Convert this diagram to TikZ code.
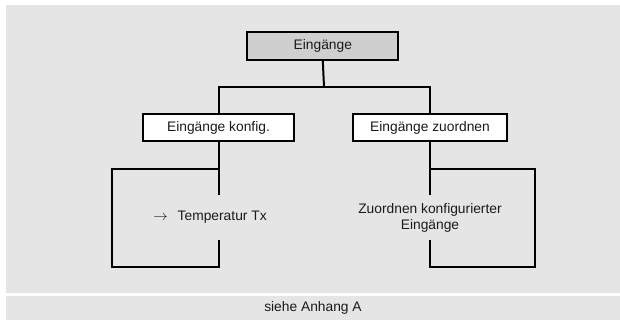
\documentclass[tikz,border=0pt]{standalone}
\usepackage{fontspec}
\setmainfont{Liberation Sans}
\usepackage{tikz}
\usetikzlibrary{positioning,calc}
\definecolor{panel}{HTML}{E5E5E5}
\definecolor{rootfill}{HTML}{CFCFCF}
\definecolor{ink}{HTML}{1A1A1A}

\begin{document}
\begin{tikzpicture}[x=1pt,y=-1pt,font=\fontsize{13.8}{16}\selectfont,text=ink,box/.style={draw=black,line width=2pt,minimum height=27pt,inner sep=0pt},leaf/.style={align=center,minimum height=43.6pt,inner sep=0pt},link/.style={line width=2pt,black}]
\useasboundingbox (0,0) rectangle (620,320);
\fill[white] (0,0) rectangle (620,320);
\fill[panel] (6,5) rectangle (620,292.7);
\fill[panel] (6,295.7) rectangle (620,320);
\node[box,fill=rootfill,minimum width=151pt,minimum height=28pt] (root) at (322.8,46) {Eingänge};
\node[box,fill=white,minimum width=151.6pt] (konf) at (218.5,127.5) {Eingänge konfig.};
\node[box,fill=white,minimum width=153.4pt] (zuord) at (430,127.5) {Eingänge zuordnen};
\node[leaf] (temp) at (210,217.5) {$\rightarrow$\hspace{10pt}Temperatur Tx};
\node[leaf] (assign) at (430,217.5) {Zuordnen konfigurierter\\Eingänge};
\node (note) at (313,307.5) {siehe Anhang A};
\coordinate (bus) at (324,86.7);
\coordinate (lt) at (112,169);\coordinate (lb) at (112,266.7);
\coordinate (rt) at (535,169);\coordinate (rb) at (535,266.7);
\draw[link] (root.south) -- (bus);
\draw[link] (konf.north) |- (bus) -| (zuord.north);
\draw[link] (konf.south) -- (konf.south |- temp.north);
\draw[link] (zuord.south) -- (assign.north);
\draw[link] (lt -| konf.south) -- (lt) -- (lb) -- (lb -| konf.south) -- (konf.south |- temp.south);
\draw[link] (rt -| zuord.south) -- (rt) -- (rb) -- (rb -| zuord.south) -- (assign.south);
\end{tikzpicture}
\end{document}
